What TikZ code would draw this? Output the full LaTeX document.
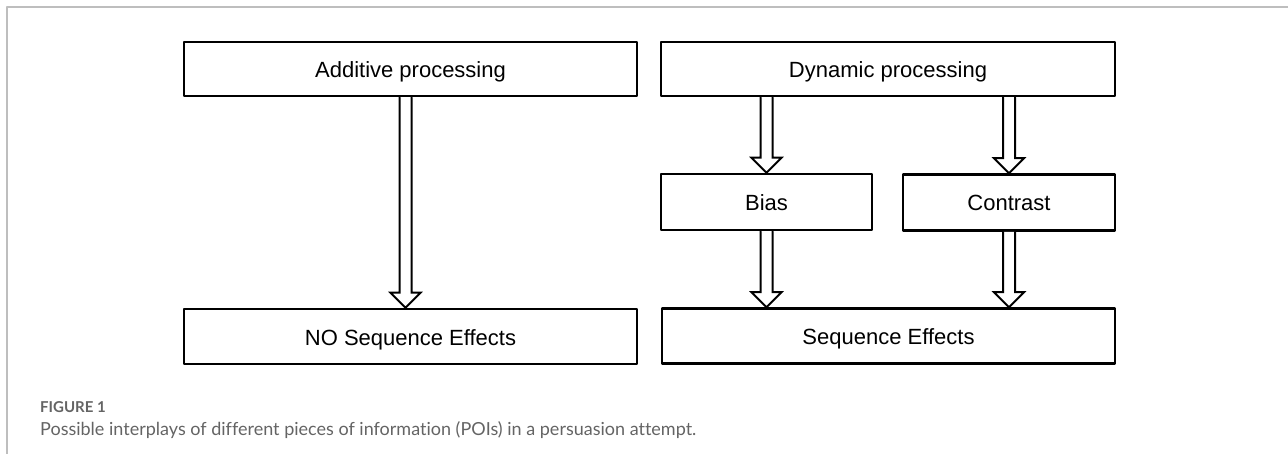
\documentclass[tikz,border=0pt]{standalone}
\usepackage{fontspec}
\setmainfont{Liberation Sans}
\newfontfamily\capfont[Ligatures=NoCommon]{Lato}
\usepackage{tikz}
\usetikzlibrary{calc}

\definecolor{framegray}{RGB}{190,190,190}
\definecolor{capgray}{RGB}{100,100,100}

\tikzset{
  box/.style={draw=black,line width=2.6pt,rectangle,inner sep=0pt,
    text height=19pt,text depth=2pt,
    font=\fontsize{22}{26}\selectfont},
  hollow/.style={draw=black,line width=2pt,fill=white,line join=miter}
}

% hollow arrow from #1 (top) down to #2 (tip)
\newcommand{\hollowarrow}[2]{%
  \draw[hollow] ($#1+(-6,0)$) -- ($#2+(-6,-15)$) -- ($#2+(-15,-15)$) -- #2
    -- ($#2+(15,-15)$) -- ($#2+(6,-15)$) -- ($#1+(6,0)$);
}

\begin{document}
\begin{tikzpicture}[line cap=round,line join=round,x=1pt,y=-1pt]

\useasboundingbox (0,0) rectangle (1288,454);

% frame
\draw[framegray,line width=1.5pt,line cap=butt] (7,454) -- (7,7) -- (1288,7);

\node[box,minimum width=453pt,minimum height=54pt] (add) at (410.5,69) {Additive processing};
\node[box,minimum width=454pt,minimum height=54pt] (dyn) at (888,69) {Dynamic processing};
\node[box,minimum width=211pt,minimum height=56pt] (bias) at (766.5,202) {Bias};
\node[box,minimum width=212pt,minimum height=56pt] (contr) at (1009,202.5) {Contrast};
\node[box,minimum width=453pt,minimum height=55pt] (noseq) at (410.5,336.5) {NO Sequence Effects};
\node[box,minimum width=453pt,minimum height=55pt] (seq) at (888.5,336) {Sequence Effects};

\hollowarrow{([xshift=-5pt]add.south)}{([xshift=-5pt]noseq.north)}
\hollowarrow{(bias.north |- dyn.south)}{(bias.north)}
\hollowarrow{(contr.north |- dyn.south)}{(contr.north)}
\hollowarrow{(bias.south)}{(bias.south |- seq.north)}
\hollowarrow{(contr.south)}{(contr.south |- seq.north)}

% caption
\node[anchor=west,inner sep=0pt,text=capgray,font=\capfont\bfseries\fontsize{15}{17}\selectfont] (fig) at (40,407) {FIGURE 1};
\node[anchor=west,inner sep=0pt,text=capgray,font=\capfont\fontsize{18}{21}\selectfont] (cap) at (40,430)
  {Possible interplays of different pieces of information (POIs) in a persuasion attempt.};

\end{tikzpicture}
\end{document}
